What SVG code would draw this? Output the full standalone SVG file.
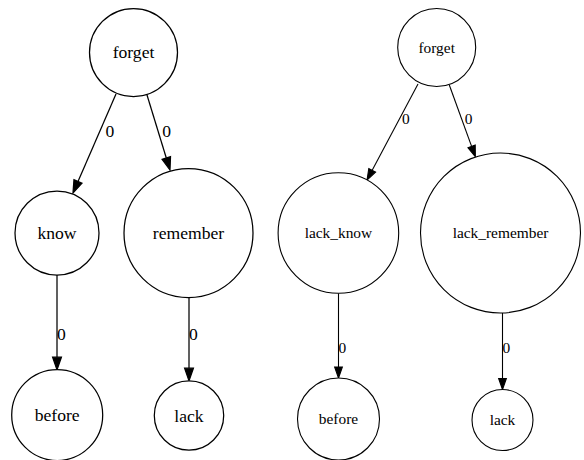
<svg xmlns="http://www.w3.org/2000/svg" width="584" height="460" viewBox="0 0 584 460">
<style>
  .n { fill: #ffffff; stroke: #000000; }
  .L .n, .L .e { stroke-width: 1.25; }
  .R .n, .R .e { stroke-width: 1.1; }
  .e { stroke: #000000; fill: none; }
  .t { fill: #000000; }
  .c { text-anchor: middle; }
</style>
<defs>
  <marker id="aL" markerUnits="userSpaceOnUse" markerWidth="14" markerHeight="10" refX="0" refY="4.4" orient="auto" overflow="visible">
    <path d="M0,0 L12.6,4.4 L0,8.8 Z" fill="#000000" stroke="#000000" stroke-width="1.25"/>
  </marker>
  <marker id="aR" markerUnits="userSpaceOnUse" markerWidth="12" markerHeight="9" refX="0" refY="3.85" orient="auto" overflow="visible">
    <path d="M0,0 L11,3.85 L0,7.7 Z" fill="#000000" stroke="#000000" stroke-width="1.1"/>
  </marker>
</defs>

<g class="L" font-family="'Liberation Serif', 'Times New Roman', serif" font-size="17.6">
  <g id="edges-left">
    <line class="e" x1="116" y1="94" x2="78" y2="181.4" marker-end="url(#aL)"/>
    <text class="t" x="105.5" y="136.5">0</text>
    <line class="e" x1="147" y1="95" x2="166.3" y2="158" marker-end="url(#aL)"/>
    <text class="t" x="162.3" y="136.5">0</text>
    <line class="e" x1="57" y1="275" x2="57" y2="357.2" marker-end="url(#aL)"/>
    <text class="t" x="57" y="339.5">0</text>
    <line class="e" x1="189" y1="297.5" x2="189" y2="368.2" marker-end="url(#aL)"/>
    <text class="t" x="189" y="339.5">0</text>
  </g>
  <g id="L_forget"><circle class="n" cx="133.5" cy="52.5" r="44"/><text class="t c" x="133.5" y="58.3">forget</text></g>
  <g id="L_know"><circle class="n" cx="57" cy="233" r="42"/><text class="t c" x="57" y="239">know</text></g>
  <g id="L_remember"><circle class="n" cx="188.5" cy="233" r="64.5"/><text class="t c" x="188.5" y="239">remember</text></g>
  <g id="L_before"><circle class="n" cx="57.2" cy="415" r="45.5"/><text class="t c" x="57.2" y="421">before</text></g>
  <g id="L_lack"><circle class="n" cx="189" cy="415.5" r="34.7"/><text class="t c" x="189" y="421.5">lack</text></g>
</g>

<g class="R" font-family="'Liberation Serif', 'Times New Roman', serif" font-size="15.4">
  <g id="edges-right">
    <line class="e" x1="418" y1="84" x2="372.2" y2="170.3" marker-end="url(#aR)"/>
    <text class="t" x="402" y="124">0</text>
    <line class="e" x1="449.3" y1="85" x2="471.6" y2="146.4" marker-end="url(#aR)"/>
    <text class="t" x="464.7" y="124">0</text>
    <line class="e" x1="338.5" y1="293.3" x2="338.5" y2="367" marker-end="url(#aR)"/>
    <text class="t" x="338.5" y="352.5">0</text>
    <line class="e" x1="502.5" y1="313" x2="502.5" y2="378.5" marker-end="url(#aR)"/>
    <text class="t" x="502.5" y="352.5">0</text>
  </g>
  <g id="R_forget"><circle class="n" cx="436.7" cy="47.5" r="39"/><text class="t c" x="436.7" y="52.7">forget</text></g>
  <g id="R_lack_know"><circle class="n" cx="338.4" cy="233" r="60.3"/><text class="t c" x="338.4" y="238.2">lack_know</text></g>
  <g id="R_lack_remember"><circle class="n" cx="500.5" cy="233" r="80"/><text class="t c" x="500.5" y="238.2">lack_remember</text></g>
  <g id="R_before"><circle class="n" cx="338.5" cy="419" r="41"/><text class="t c" x="338.5" y="424.2">before</text></g>
  <g id="R_lack"><circle class="n" cx="502.5" cy="420" r="30.5"/><text class="t c" x="502.5" y="425.2">lack</text></g>
</g>
</svg>
